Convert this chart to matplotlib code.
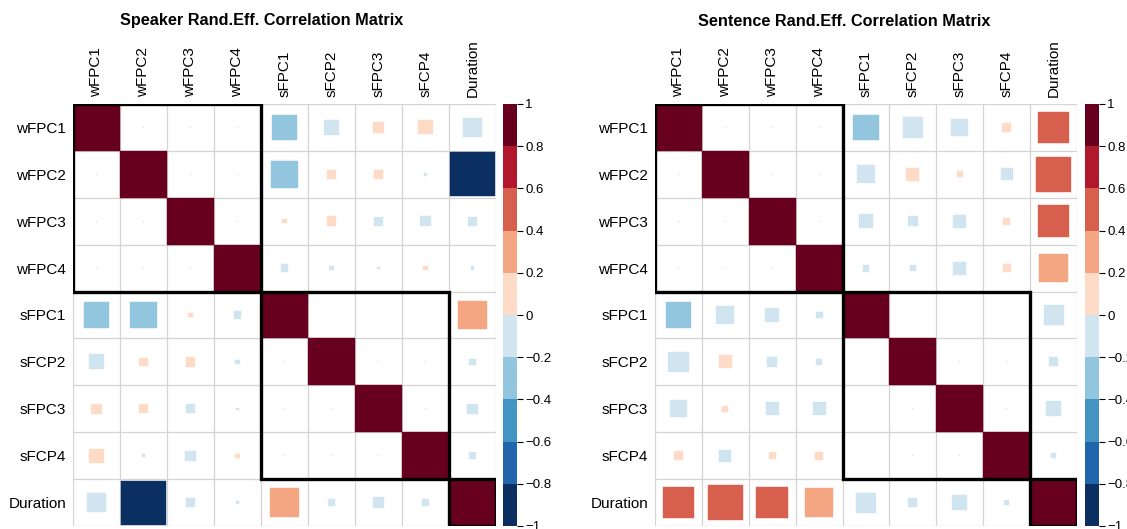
import numpy as np
import matplotlib
matplotlib.use("Agg")
import matplotlib.pyplot as plt
from matplotlib.colors import ListedColormap, BoundaryNorm
from matplotlib.patches import Rectangle
from matplotlib.cm import ScalarMappable

plt.rcParams['font.family'] = ['Liberation Sans', 'DejaVu Sans']

# variable names (row / column order)
var_names = ["wFPC1", "wFPC2", "wFPC3", "wFPC4",
             "sFPC1", "sFCP2", "sFPC3", "sFCP4", "Duration"]

# speaker random-effect correlations
speaker_corr = [
    [1.000, 0.0004, 0.0003, 0.0003, -0.290, -0.100, 0.050, 0.090, -0.160],
    [0.0004, 1.000, 0.0003, 0.0003, -0.330, 0.035, 0.035, -0.005, -0.880],
    [0.0003, 0.0003, 1.000, 0.0003, 0.008, 0.042, -0.036, -0.046, -0.040],
    [0.0003, 0.0003, 0.0003, 1.000, -0.028, -0.008, -0.002, 0.008, -0.006],
    [-0.290, -0.330, 0.008, -0.028, 1.000, 0.0003, 0.0003, 0.0004, 0.360],
    [-0.100, 0.035, 0.042, -0.008, 0.0003, 1.000, 0.0003, 0.0003, -0.020],
    [0.050, 0.035, -0.036, -0.002, 0.0003, 0.0003, 1.000, 0.0003, -0.050],
    [0.090, -0.005, -0.046, 0.008, 0.0004, 0.0003, 0.0003, 1.000, -0.020],
    [-0.160, -0.880, -0.040, -0.006, 0.360, -0.020, -0.050, -0.020, 1.000],
]

# sentence random-effect correlations
sentence_corr = [
    [1.000, 0.0003, 0.0003, 0.0003, -0.290, -0.190, -0.130, 0.034, 0.420],
    [0.0003, 1.000, 0.0003, 0.0003, -0.150, 0.075, 0.018, -0.067, 0.560],
    [0.0003, 0.0003, 1.000, 0.0003, -0.090, -0.043, -0.075, 0.022, 0.460],
    [0.0003, 0.0003, 0.0003, 1.000, -0.022, -0.018, -0.075, 0.027, 0.360],
    [-0.290, -0.150, -0.090, -0.022, 1.000, 0.0003, 0.0003, 0.0003, -0.180],
    [-0.190, 0.075, -0.043, -0.018, 0.0003, 1.000, 0.0003, 0.0003, -0.037],
    [-0.130, 0.018, -0.075, -0.075, 0.0003, 0.0003, 1.000, 0.0003, -0.108],
    [0.034, -0.067, 0.022, 0.027, 0.0003, 0.0003, 0.0003, 1.000, -0.013],
    [0.420, 0.560, 0.460, 0.360, -0.180, -0.037, -0.108, -0.013, 1.000],
]

# clusters outlined with black rectangles (first index, last index)
clusters = [(0, 3), (4, 7), (8, 8)]

titles = ["Speaker Rand.Eff. Correlation Matrix",
          "Sentence Rand.Eff. Correlation Matrix"]

# RdBu palette, 10 bins from -1 to 1
palette = ["#0B2F60", "#2166AC", "#4393C3", "#92C5DE", "#D1E5F0",
           "#FDDBC7", "#F4A582", "#D6604D", "#B2182B", "#67001F"]
cmap = ListedColormap(palette)
bounds = np.linspace(-1, 1, 11)
norm = BoundaryNorm(bounds, cmap.N)

W, H = 1127, 529
fig = plt.figure(figsize=(W / 100, H / 100), dpi=100)


def px_axes(x0, y0, x1, y1):
    # pixel box (top-left origin) -> figure axes
    return fig.add_axes([x0 / W, 1 - y1 / H, (x1 - x0) / W, (y1 - y0) / H])


def draw_corr(ax, corr, title, title_x):
    corr = np.asarray(corr)
    n = corr.shape[0]
    ax.set_xlim(0, n)
    ax.set_ylim(n, 0)
    # grid
    for k in range(n + 1):
        ax.plot([k, k], [0, n], color="#d4d4d4", lw=0.9, zorder=1)
        ax.plot([0, n], [k, k], color="#d4d4d4", lw=0.9, zorder=1)
    # squares, side ~ sqrt(|r|)
    for i in range(n):
        for j in range(n):
            r = corr[i, j]
            s = np.sqrt(abs(r))
            c = cmap(norm(r))
            ax.add_patch(Rectangle((j + 0.5 - s / 2, i + 0.5 - s / 2), s, s,
                                   facecolor=c, edgecolor=c, lw=0.3, zorder=2))
    # cluster rectangles
    for a, b in clusters:
        ax.add_patch(Rectangle((a, a), b - a + 1, b - a + 1, fill=False,
                               edgecolor="black", lw=2.4, zorder=3,
                               joinstyle="miter"))
    ax.set_xticks(np.arange(n) + 0.5)
    ax.set_yticks(np.arange(n) + 0.5)
    ax.xaxis.tick_top()
    ax.set_xticklabels(var_names, rotation=90, fontsize=11)
    ax.set_yticklabels(var_names, fontsize=11)
    ax.tick_params(length=0, pad=5)
    for sp in ax.spines.values():
        sp.set_visible(False)
    fig.text(title_x / W, 1 - 21 / H, title, fontsize=11.7,
             fontweight="bold", ha="center", va="center")


def draw_bar(cax):
    sm = ScalarMappable(norm=norm, cmap=cmap)
    cb = fig.colorbar(sm, cax=cax, ticks=bounds)
    cb.outline.set_visible(False)
    labels = []
    for t in bounds:
        v = round(t, 1)
        if v == 0:
            labels.append("0")
        elif v in (1, -1):
            labels.append(("\u2212" if v < 0 else "") + "1")
        else:
            labels.append(("\u2212" if v < 0 else "") + f"{abs(v):.1f}")
    cb.set_ticklabels(labels)
    cax.tick_params(length=4, width=0.8, labelsize=9.5, pad=2)


ax1 = px_axes(73, 104, 496, 526)
draw_corr(ax1, speaker_corr, titles[0], 262)
cax1 = px_axes(503, 104, 517, 526)
draw_bar(cax1)

ax2 = px_axes(655, 104, 1077, 526)
draw_corr(ax2, sentence_corr, titles[1], 844)
cax2 = px_axes(1085, 104, 1099, 526)
draw_bar(cax2)

fig.savefig("out.png", dpi=100)
